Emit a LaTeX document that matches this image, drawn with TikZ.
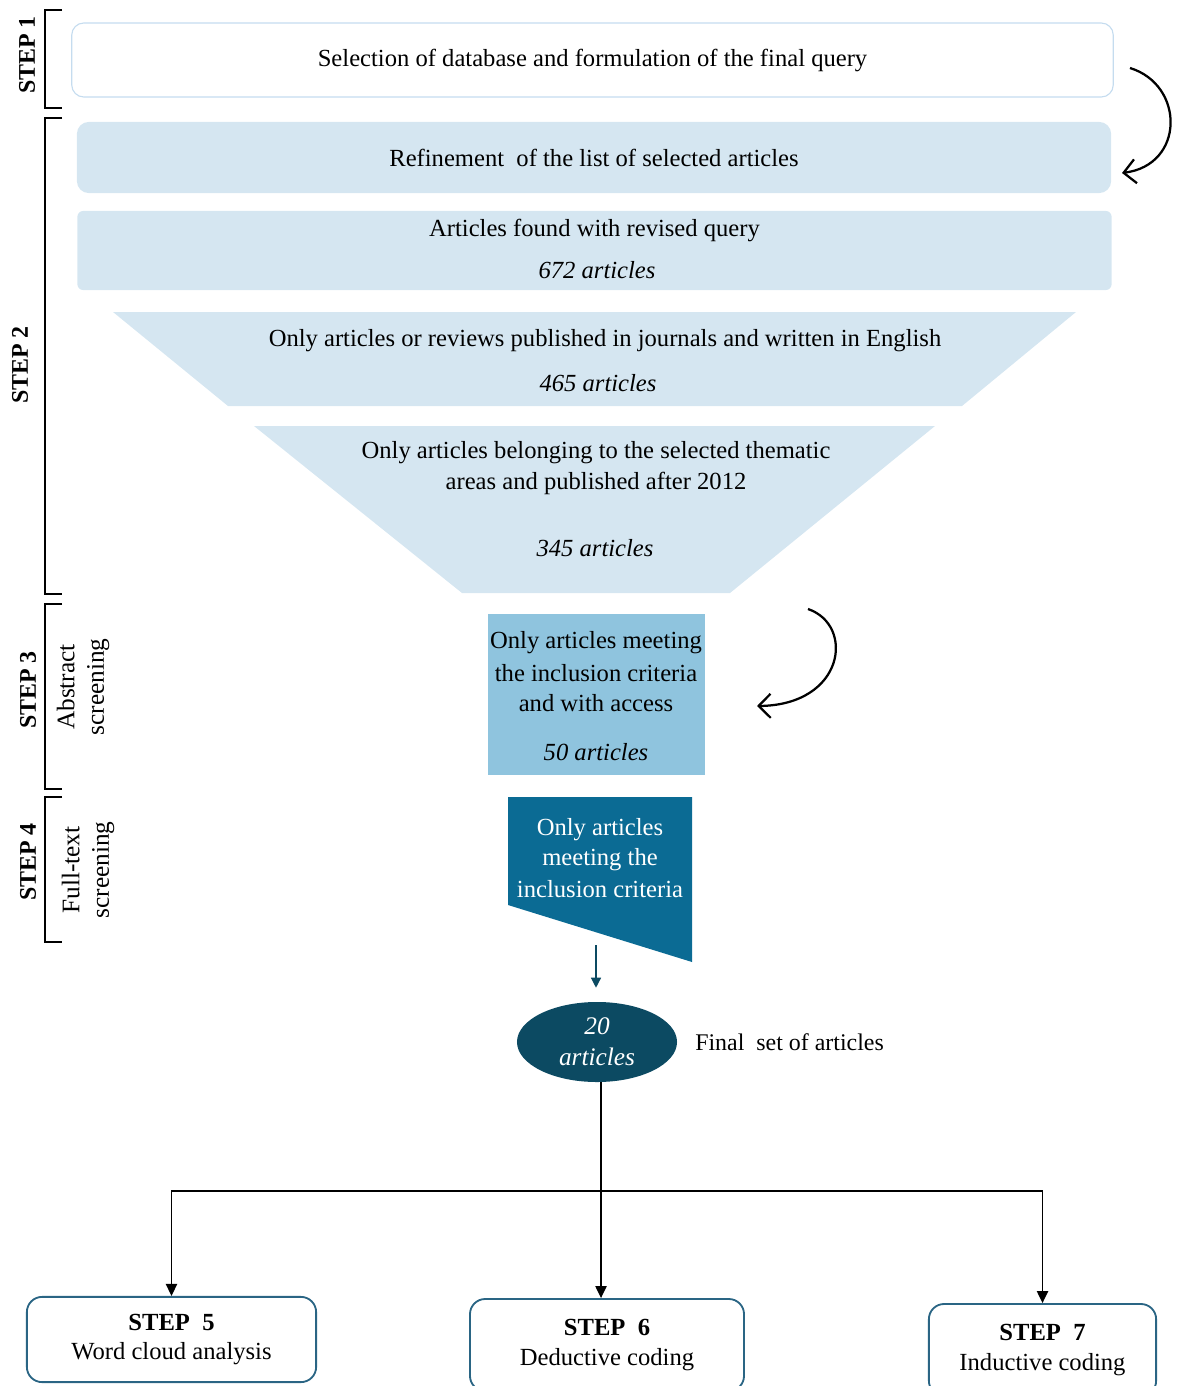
\documentclass[tikz,border=0pt]{standalone}
\usepackage{fontspec}
\setmainfont{Liberation Serif}
\usetikzlibrary{arrows.meta}
\usetikzlibrary{shapes.geometric}
\definecolor{PaleSky}{HTML}{D5E6F1}
\definecolor{PaleEdge}{HTML}{C5DCEF}
\definecolor{MidSky}{HTML}{8FC4DE}
\definecolor{DeepSea}{HTML}{0B6B94}
\definecolor{NightSea}{HTML}{0C4A62}
\definecolor{BoxEdge}{HTML}{2A6584}

\begin{document}
\begin{tikzpicture}[
  x=0.025cm, y=-0.025cm,
  font=\fontsize{17.5}{20}\selectfont,
  every node/.style={inner sep=0pt},
  topbox/.style={draw=PaleEdge, line width=0.8pt, rounded corners=0.3cm,
    minimum width=26.03cm, minimum height=1.85cm},
  band/.style={fill=PaleSky, rounded corners=0.3cm,
    minimum width=25.85cm, minimum height=1.78cm},
  bracket/.style={line width=1.3pt},
  steplabel/.style={rotate=90, font=\fontsize{17}{20}\selectfont\bfseries},
  sublabel/.style={rotate=90, align=center, font=\fontsize{18}{21}\selectfont},
  whitetext/.style={text=white},
  curl/.style={line width=1.6pt, -{Straight Barb[length=0.3cm,width=0.6cm]}},
  flow/.style={line width=1.1pt, -{Triangle[width=0.28cm,length=0.3cm]}},
  stepbox/.style={draw=BoxEdge, line width=1.3pt, rounded corners=0.38cm,
    align=center, font=\fontsize{17.5}{21}\selectfont},
  ]

\useasboundingbox (0,0) rectangle (1176,1386);

% brackets on the left
\draw[bracket] (62,10) -| (45,108) -- (62,108);
\node[steplabel] (l1) at (27,55) {STEP 1};
\draw[bracket] (62,118) -| (45,594) -- (62,594);
\node[steplabel] (l2) at (20,365) {STEP 2};
\draw[bracket] (62,604) -| (45,789) -- (62,789);
\node[steplabel] (l3) at (28,690) {STEP 3};
\node[sublabel] (a3) at (83,687) {Abstract\\screening};
\draw[bracket] (62,797) -| (45,942) -- (62,942);
\node[steplabel] (l4) at (28,862) {STEP 4};
\node[sublabel] (a4) at (88,870) {Full-text\\screening};

% step 1 and 2
\node[topbox] (sel) at (592.5,60) {Selection of database and formulation of the final query};
\node[band] (ref) at (594,157.5) {Refinement\ \ of the list of selected articles};
\node[band, minimum height=1.98cm, rounded corners=0.15cm] (found) at (594.5,250.5) {};
\node (found1) at (594.5,230) {Articles found with revised query};
\node (found2) at (597,270) {\textit{672 articles}};

\fill[PaleSky] (113,312) -- (1076,312) -- (962,406) -- (228,406) -- cycle;
\node (jour1) at (605,341) {Only articles or reviews published in journals and written in English};
\node (jour2) at (598,383) {\textit{465 articles}};

\fill[PaleSky] (254,426) -- (935,426) -- (730,593) -- (462,593) -- cycle;
\node (area1) at (596,453) {Only articles belonging to the selected thematic};
\node (area2) at (596,483) {areas and published after 2012};
\node (area3) at (595,548) {\textit{345 articles}};

% step 3
\node[fill=MidSky, minimum width=5.43cm, minimum height=4.03cm] (abs) at (596.5,694.5) {};
\node (abs1) at (596,643) {Only articles meeting};
\node (abs2) at (596,673) {the inclusion criteria};
\node (abs3) at (596,703) {and with access};
\node (abs4) at (596,752) {\textit{50 articles}};

% step 4
\fill[DeepSea] (508,797) -- (692,797) -- (692,962) -- (508,905) -- cycle;
\node[whitetext] (full1) at (600,830) {Only articles};
\node[whitetext] (full2) at (600,860) {meeting the};
\node[whitetext] (full3) at (600,889) {inclusion criteria};

% curved arrows
\coordinate (c1a) at (1130,68);
\coordinate (c1b) at (1122,173);
\draw[curl] (c1a) .. controls (1185,85) and (1185,165) .. (c1b);
\coordinate (c2a) at (808,609);
\coordinate (c2b) at (757,706);
\draw[curl] (c2a) .. controls (855,625) and (845,705) .. (c2b);

% final set
\node[ellipse, fill=NightSea, text=white, align=center,
  minimum width=4cm, minimum height=2cm,
  font=\fontsize{18}{22}\selectfont\itshape] (fin) at (597,1042) {20\\articles};
\node[anchor=west, font=\fontsize{17}{20}\selectfont] (finlabel) at (695,1042) {Final\ \ set of articles};

\coordinate (ftbot) at (596,945);
\draw[line width=0.9pt, draw=NightSea, fill=NightSea,
  -{Triangle[width=0.25cm,length=0.25cm]}, shorten >=0.35cm] (ftbot) -- (ftbot |- fin.north);

% steps 5 to 7
\node[stepbox, minimum width=7.23cm, minimum height=2.13cm] (s5) at (171.5,1339.5)
  {\textbf{STEP\ \ 5}\\Word cloud analysis};
\node[stepbox, minimum width=6.85cm, minimum height=2.3cm] (s6) at (607,1345)
  {\textbf{STEP\ \ 6}\\Deductive coding};
\node[stepbox, minimum width=5.68cm, minimum height=2.3cm] (s7) at (1042.5,1350)
  {\textbf{STEP\ \ 7}\\Inductive coding};

\coordinate (split) at (601,1191);
\draw[flow] (fin.south -| split) -- (split |- s6.north);
\draw[flow] (split) -| (s5.north);
\draw[flow] (split) -| (s7.north);
\end{tikzpicture}
\end{document}
